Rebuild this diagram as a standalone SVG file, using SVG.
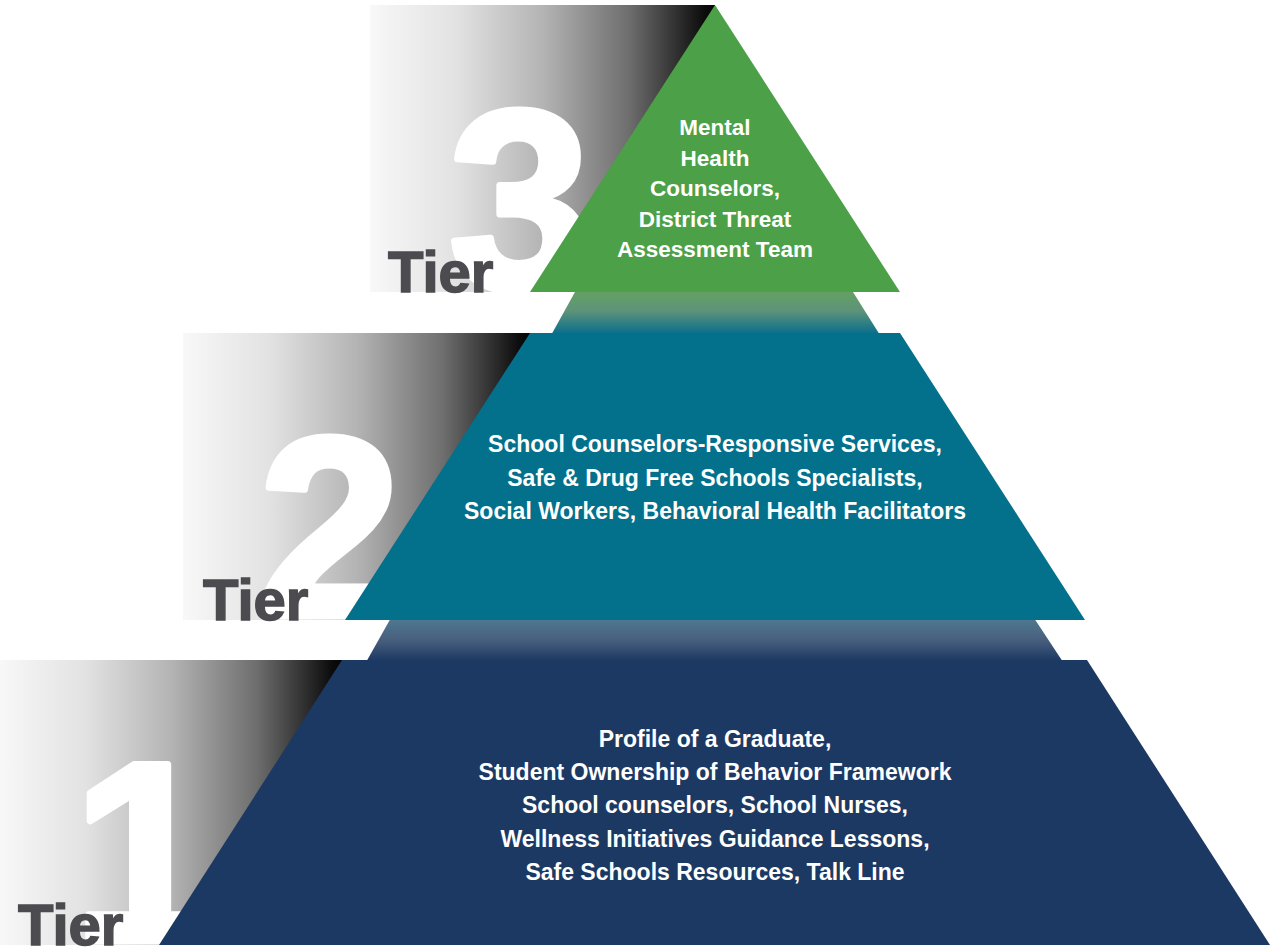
<svg xmlns="http://www.w3.org/2000/svg" width="1273" height="952" viewBox="0 0 1273 952">
  <defs>
    <linearGradient id="gray" x1="0" y1="0" x2="1" y2="0">
      <stop offset="0" stop-color="#f8f8f8"/>
      <stop offset="0.25" stop-color="#e2e2e2"/>
      <stop offset="0.5" stop-color="#b4b4b4"/>
      <stop offset="0.75" stop-color="#6e6e6e"/>
      <stop offset="0.97" stop-color="#0c0c0c"/>
      <stop offset="1" stop-color="#050505"/>
    </linearGradient>
    <linearGradient id="band1" x1="0" y1="0" x2="0" y2="1">
      <stop offset="0" stop-color="#64a062"/>
      <stop offset="0.45" stop-color="#5e937a"/>
      <stop offset="1" stop-color="#0a6f8c"/>
    </linearGradient>
    <linearGradient id="band2" x1="0" y1="0" x2="0" y2="1">
      <stop offset="0" stop-color="#4f7890"/>
      <stop offset="0.5" stop-color="#485f7e"/>
      <stop offset="1" stop-color="#1d3963"/>
    </linearGradient>
    <style>
      .num { font-family: "Liberation Sans", Arial, sans-serif; font-weight: bold; font-size: 256px; fill: #ffffff; stroke: #ffffff; stroke-width: 7px; stroke-linejoin: round; text-anchor: middle; }
      .tier { font-family: "Liberation Sans", Arial, sans-serif; font-weight: bold; font-size: 58px; fill: #4b4b50; stroke: #4b4b50; stroke-width: 1.5px; }
      .lbl { font-family: "Liberation Sans", Arial, sans-serif; font-weight: bold; font-size: 23px; fill: #ffffff; text-anchor: middle; }
      .lbl3 { font-size: 22.5px; }
    </style>
  </defs>
  <rect width="1273" height="952" fill="#ffffff"/>

  <g id="tier3-side">
    <rect x="370" y="5" width="345" height="287" fill="url(#gray)"/>
    <text class="num" x="520" y="289">3</text>
    <text class="tier" x="388" y="292">Tier</text>
  </g>
  <g id="tier2-side">
    <rect x="183" y="333" width="347" height="287" fill="url(#gray)"/>
    <text class="num" x="330" y="616">2</text>
    <text class="tier" x="203" y="620">Tier</text>
  </g>
  <g id="tier1-side">
    <rect x="0" y="660" width="342" height="285" fill="url(#gray)"/>
    <text class="num" x="144" y="941">1</text>
    <text class="tier" x="18" y="945">Tier</text>
  </g>

  <g id="connectors">
    <polygon points="575,292 853,292 879,333.5 552,333.5" fill="url(#band1)"/>
    <polygon points="390,619.5 1035,619.5 1062,660.5 367,660.5" fill="url(#band2)"/>
  </g>

  <g id="tier3">
    <polygon points="715,5 900,292 530,292" fill="#4ca047"/>
    <text class="lbl lbl3" x="715" y="135">Mental</text>
    <text class="lbl lbl3" x="715" y="166">Health</text>
    <text class="lbl lbl3" x="715" y="196">Counselors,</text>
    <text class="lbl lbl3" x="715" y="227">District Threat</text>
    <text class="lbl lbl3" x="715" y="257">Assessment Team</text>
  </g>

  <g id="tier2">
    <polygon points="530,333 900,333 1085,620 345,620" fill="#03708c"/>
    <text class="lbl" x="715" y="452">School Counselors-Responsive Services,</text>
    <text class="lbl" x="715" y="486">Safe &amp; Drug Free Schools Specialists,</text>
    <text class="lbl" x="715" y="519">Social Workers, Behavioral Health Facilitators</text>
  </g>

  <g id="tier1">
    <polygon points="342,660 1087,660 1270,945 159,945" fill="#1c3963"/>
    <text class="lbl" x="715" y="747">Profile of a Graduate,</text>
    <text class="lbl" x="715" y="780">Student Ownership of Behavior Framework</text>
    <text class="lbl" x="715" y="813">School counselors, School Nurses,</text>
    <text class="lbl" x="715" y="847">Wellness Initiatives Guidance Lessons,</text>
    <text class="lbl" x="715" y="880">Safe Schools Resources, Talk Line</text>
  </g>
</svg>
